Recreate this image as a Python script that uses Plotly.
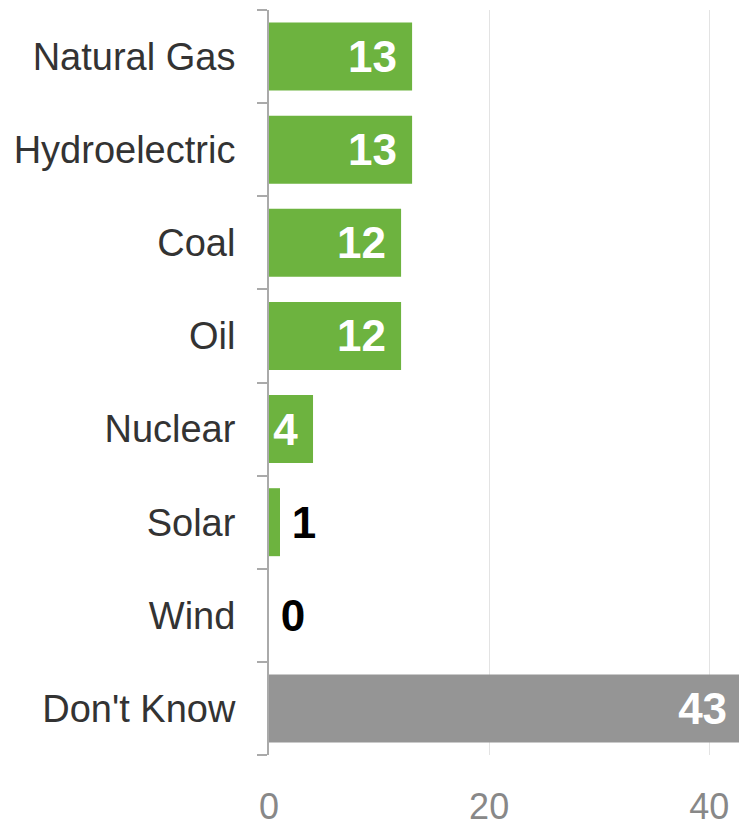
import plotly.graph_objects as go

categories = ["Natural Gas", "Hydroelectric", "Coal", "Oil", "Nuclear", "Solar", "Wind", "Don't Know"]
values = [13, 13, 12, 12, 4, 1, 0, 43]
bar_colors = ["#6db33f"] * 7 + ["#959595"]
text_pos = ["inside", "inside", "inside", "inside", "inside", "outside", "outside", "inside"]
text_colors = ["white" if p == "inside" else "black" for p in text_pos]
# a trailing no-break space keeps inside labels off the bar end
labels = [f"{v}\u00a0" if p == "inside" else f"\u2009{v}" for v, p in zip(values, text_pos)]

fig = go.Figure(
    go.Bar(
        x=values,
        y=categories,
        orientation="h",
        marker=dict(color=bar_colors, line=dict(width=0)),
        width=0.73,
        text=labels,
        textposition=text_pos,
        insidetextanchor="end",
        textfont=dict(family="Liberation Sans", size=44, color=text_colors, weight="bold"),
        cliponaxis=True,
    )
)

fig.update_layout(
    width=739,
    height=821,
    margin=dict(l=269, r=0, t=10, b=66),
    plot_bgcolor="white",
    paper_bgcolor="white",
    showlegend=False,
    font=dict(family="Liberation Sans"),
    uniformtext=dict(mode=False),
)
fig.update_xaxes(
    range=[0, 42.7],
    tickvals=[0, 20, 40],
    showgrid=True,
    gridcolor="#e3e3e3",
    gridwidth=1,
    zeroline=False,
    showline=False,
    tickfont=dict(size=36, color="#888888"),
    ticklabelstandoff=27,
    automargin=False,
)
fig.update_yaxes(
    categoryorder="array",
    categoryarray=categories[::-1],
    showline=True,
    linecolor="#aaaaaa",
    linewidth=2,
    ticks="outside",
    tickson="boundaries",
    ticklen=10,
    tickcolor="#aaaaaa",
    tickwidth=2,
    showgrid=False,
    tickfont=dict(size=38, color="#333333"),
    ticklabelstandoff=24,
    automargin=False,
)

# drop the default body margin so the figure fills the window exactly
fig.write_html(
    "out.html",
    config={"displayModeBar": False},
    post_script="document.body.style.margin='0';",
)
